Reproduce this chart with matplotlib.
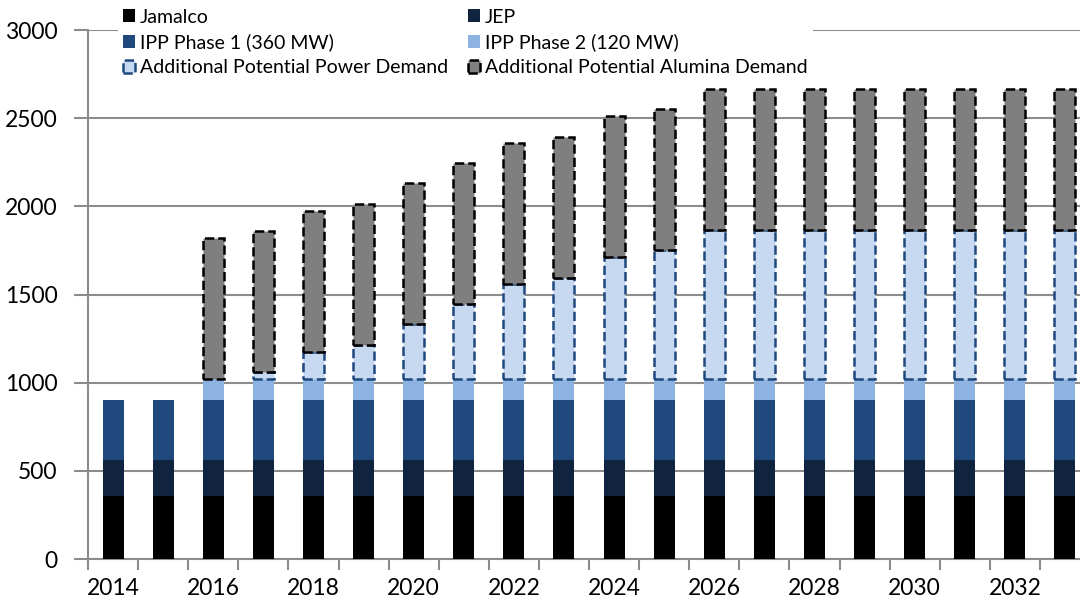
import numpy as np
import matplotlib.pyplot as plt
from matplotlib.patches import Rectangle
from matplotlib.ticker import FixedLocator, MultipleLocator

plt.rcParams['font.family'] = ['Lato', 'DejaVu Sans']

years = list(range(2014, 2034))
jamalco = [360] * 20
jep = [200] * 20
ipp1 = [340] * 20
ipp2 = [0, 0] + [120] * 18
power_demand = [0, 0, 0, 40, 155, 195, 310, 425, 540, 575, 690, 730] + [845] * 8
alumina_demand = [0, 0] + [800] * 18

series = [
    ("Jamalco", jamalco, dict(facecolor="#000000", edgecolor="none")),
    ("JEP", jep, dict(facecolor="#10243F", edgecolor="none")),
    ("IPP Phase 1 (360 MW)", ipp1, dict(facecolor="#1F497D", edgecolor="none")),
    ("IPP Phase 2 (120 MW)", ipp2, dict(facecolor="#8DB3E2", edgecolor="none")),
    ("Additional Potential Power Demand", power_demand,
     dict(facecolor="#C6D9F1", edgecolor="#1F497D", linestyle="--", linewidth=1.8)),
    ("Additional Potential Alumina Demand", alumina_demand,
     dict(facecolor="#7F7F7F", edgecolor="#000000", linestyle="--", linewidth=1.8)),
]

fig = plt.figure(figsize=(10.8, 6.03), dpi=100)
ax = fig.add_axes([88 / 1080, 44 / 603, 1 - 88 / 1080, 529 / 603])

x = np.arange(len(years))
bottom = np.zeros(len(years))
handles = []
for name, vals, style in series:
    vals = np.array(vals, dtype=float)
    bars = ax.bar(x, vals, width=0.42, bottom=bottom, zorder=3, **style)
    # hide empty segments so dashed outlines don't show up at zero height
    for b, v in zip(bars, vals):
        if v == 0:
            b.set_visible(False)
    handles.append(Rectangle((0, 0), 1, 1, label=name, **style))
    bottom += vals

ax.set_ylim(0, 3000)
ax.set_xlim(-0.5, 19.3)
ax.yaxis.set_major_locator(MultipleLocator(500))
ax.grid(axis="y", color="#8c8c8c", linewidth=1.5, zorder=0)
ax.set_axisbelow(True)

# category labels every other year, tick marks between categories
ax.xaxis.set_major_locator(FixedLocator(x[::2]))
ax.set_xticklabels([str(y) for y in years[::2]])
ax.xaxis.set_minor_locator(FixedLocator(np.arange(-0.5, 20, 1)))
ax.tick_params(axis="x", which="major", length=0, pad=14, labelsize=16.5)
ax.tick_params(axis="x", which="minor", length=8, width=1.5, color="#8c8c8c", direction="out")
ax.tick_params(axis="y", length=10, width=1.5, color="#8c8c8c", labelsize=16.5, pad=12)

for side in ("top", "right"):
    ax.spines[side].set_visible(False)
for side in ("left", "bottom"):
    ax.spines[side].set_color("#8c8c8c")
    ax.spines[side].set_linewidth(1.5)

# legend reads row by row: pairs of entries across two columns
order = [0, 2, 4, 1, 3, 5]
leg = fig.legend(handles=[handles[i] for i in order], ncol=2, loc="upper left",
                 bbox_to_anchor=(108 / 1080, 1.01), frameon=True, fancybox=False,
                 facecolor="white", edgecolor="none", framealpha=1,
                 fontsize=14, handlelength=0.65, handleheight=0.65,
                 handletextpad=0.25, columnspacing=1.0, labelspacing=0.4,
                 borderpad=0.25)

fig.savefig("out.png", dpi=100)
